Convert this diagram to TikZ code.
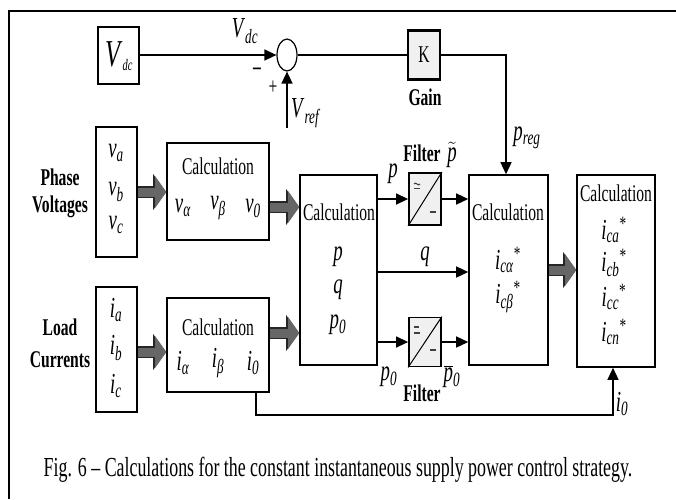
\documentclass[tikz,border=0pt]{standalone}
\usepackage{fontspec}
\setmainfont[FakeStretch=0.65]{Liberation Serif}
\usetikzlibrary{shapes.geometric,arrows.meta,calc}
\newcommand\vsb[2]{\textit{#1}\textsubscript{\textit{#2}}}
\begin{document}
\begin{tikzpicture}[x=1pt,y=-1pt,
 box/.style={draw, line width=1.6pt, inner sep=0pt, fill=white},
 gbox/.style={draw, line width=2.2pt, inner sep=0pt, fill=black!6},
 lbl/.style={font=\fontsize{24}{26}\selectfont, inner sep=0pt},
 blbl/.style={font=\fontsize{24}{26}\selectfont\bfseries, inner sep=0pt},
 var/.style={font=\fontsize{29}{31}\selectfont, inner sep=0pt},
 sig/.style={line width=1.4pt, -{Triangle[length=12pt,width=11pt]}},
 ln/.style={line width=1.4pt},
 fat/.style={line width=9pt, draw=black!60, -{Triangle[length=11pt,width=31pt]},
   preaction={draw=black!85, line width=11.5pt, -{Triangle[length=13pt,width=35pt]}}},
 sym/.style={line width=1.1pt, draw=black!75},
]
\useasboundingbox (0,0) rectangle (676,499);
% frame
\draw[line width=2.5pt] (9,499) -- (9,11) -- (676,11);

% boxes
\node[box, minimum width=41pt, minimum height=57pt] (vdc) at (118.5,55.5) {};
\node[draw, ellipse, line width=1.2pt, minimum width=20pt, minimum height=32pt, inner sep=0pt, fill=white] (sum) at (287,55) {};
\node[gbox, minimum width=32pt, minimum height=49pt] (k) at (424,55) {};
\node[box, minimum width=41pt, minimum height=130pt] (vin) at (116.5,192) {};
\node[box, minimum width=102pt, minimum height=97pt] (calc1) at (218,191.5) {};
\node[box, minimum width=77pt, minimum height=190pt] (calc2) at (338.5,270) {};
\node[box, minimum width=41pt, minimum height=125pt] (iin) at (116.5,349.5) {};
\node[box, minimum width=102pt, minimum height=94pt] (calci) at (218,345) {};
\node[gbox, line width=1.8pt, minimum width=32pt, minimum height=52pt] (f1) at (425,199) {};
\node[gbox, line width=1.8pt, minimum width=32pt, minimum height=49pt] (f2) at (425,342) {};
\node[box, minimum width=79pt, minimum height=190pt] (calc3) at (508.5,270) {};
\node[box, minimum width=78pt, minimum height=192pt] (calc4) at (616,271) {};

% filter internals
\draw[line width=1pt] (f1.south west) -- (f1.north east);
\draw[line width=1pt] (f2.south west) -- (f2.north east);
\draw[sym] (414,184) .. controls (416,181) and (418,187) .. (420,184);
\draw[sym] (414,188.5) -- (420,188.5);
\draw[sym] (430,212) -- (436,212);
\draw[sym] (414,327) -- (419,327);
\draw[sym] (414,333) -- (420,333);
\draw[sym] (430,350) -- (436,350);

% coordinates
\coordinate (vrefs) at (287,128);
\coordinate (pregx) at (506,0);
\coordinate (i0c) at (256,415);
\coordinate (i0d) at (613,415);

% connectors
\draw[sig] (vdc.east |- sum.west) -- (sum.west);
\draw[sig] (vrefs) -- (sum.south);
\draw[ln] (sum.east) -- (k.west);
\draw[sig] (k.east) -| (pregx |- calc3.north);
\draw[sig] (calc2.east |- f1.west) -- (f1.west);
\draw[sig] (f1.east) -- (f1.east -| calc3.west);
\draw[sig] ([yshift=-2pt]calc2.east) -- ([yshift=-2pt]calc2.east -| calc3.west);
\draw[sig] (calc2.east |- f2.west) -- (f2.west);
\draw[sig] (f2.east) -- (f2.east -| calc3.west);
\draw[sig] (i0c |- calci.south) -- (i0c) -- (i0d) -- (i0d |- calc4.south);

% fat arrows
\draw[fat] (vin.east) -- (vin.east -| calc1.west);
\draw[fat] ([yshift=-2.5pt]iin.east) -- ([yshift=-2.5pt]iin.east -| calci.west);
\draw[fat] ([yshift=-15.5pt]calc1.east) -- ([yshift=-15.5pt]calc1.east -| calc2.west);
\draw[fat] ([yshift=12pt]calci.east) -- ([yshift=12pt]calci.east -| calc2.west);
\draw[fat] (calc3.east) -- (calc3.east -| calc4.west);

% texts top
\node[var, font=\fontsize{38}{40}\selectfont] (tvdc) at (119,56) {\textit{V}\textsubscript{\fontsize{16}{18}\selectfont\textit{dc}}};
\node[var] (tvdc2) at (245,31) {\vsb{V}{dc}};
\node[lbl] (tminus) at (257,71) {\textbf{–}};
\node[lbl] (tplus) at (273,88) {+};
\node[var] (tvref) at (306,113) {\vsb{V}{ref}};
\node[lbl] (tk) at (424,55) {K};
\node[blbl] (tgain) at (425,97) {Gain};
\node[var] (tpreg) at (527,138) {\vsb{p}{reg}};

% left inputs
\node[blbl] (tph) at (60,177) {Phase};
\node[blbl] (tvol) at (60,207) {Voltages};
\node[var] (tva) at (116,153) {\vsb{v}{a}};
\node[var] (tvb) at (116,192) {\vsb{v}{b}};
\node[var] (tvc) at (116,225) {\vsb{v}{c}};
\node[blbl] (tload) at (60,327) {Load};
\node[blbl] (tcur) at (60,360) {Currents};
\node[var] (tia) at (116,310) {\vsb{i}{a}};
\node[var] (tib) at (116,348) {\vsb{i}{b}};
\node[var] (tic) at (116,386) {\vsb{i}{c}};

% calc1 / calci
\node[lbl] (tc1) at (218,166) {Calculation};
\node[var] (tval) at (183,208) {\vsb{v}{α}};
\node[var] (tvbe) at (218,208) {\vsb{v}{β}};
\node[var] (tv0) at (253,208) {\vsb{v}{0}};
\node[lbl] (tci) at (218,327) {Calculation};
\node[var] (tial) at (183,363) {\vsb{i}{α}};
\node[var] (tibe) at (218,363) {\vsb{i}{β}};
\node[var] (ti0) at (253,363) {\vsb{i}{0}};

% calc2
\node[lbl] (tc2) at (339,212) {Calculation};
\node[var] (tp) at (338,257) {\textit{p}};
\node[var] (tq) at (338,290) {\textit{q}};
\node[var] (tp0) at (338,325) {\vsb{p}{0}};

% filter labels
\node[blbl] (tf1) at (422,153) {Filter};
\node[var] (tpl) at (393,174) {\textit{p}};
\node[var] (tpt) at (452,155) {$\tilde{\hbox{\textit{p}}}$};
\node[var] (tql) at (425,257) {\textit{q}};
\node[var] (tp0l) at (389,377) {\vsb{p}{0}};
\node[var] (tpb) at (452,377) {$\overline{\hbox{\textit{p}}}$\textsubscript{\textit{0}}};
\node[blbl] (tf2) at (422,393) {Filter};

% calc3
\node[lbl] (tc3) at (508,212) {Calculation};
\node[var] (tica) at (508,260) {\vsb{i}{cα}\textsuperscript{*}};
\node[var] (ticb) at (508,297) {\vsb{i}{cβ}\textsuperscript{*}};

% calc4
\node[lbl] (tc4) at (616,193) {Calculation};
\node[var] (tia4) at (614,230) {\vsb{i}{ca}\textsuperscript{*}};
\node[var] (tib4) at (614,263) {\vsb{i}{cb}\textsuperscript{*}};
\node[var] (tic4) at (614,297) {\vsb{i}{cc}\textsuperscript{*}};
\node[var] (tin4) at (614,332) {\vsb{i}{cn}\textsuperscript{*}};
\node[var] (ti0r) at (622,404) {\vsb{i}{0}};

% caption
\node[lbl, font=\fontsize{27.5}{30}\selectfont] (cap) at (338,470) {Fig. 6 – Calculations for the constant instantaneous supply power control strategy.};
\end{tikzpicture}
\end{document}
